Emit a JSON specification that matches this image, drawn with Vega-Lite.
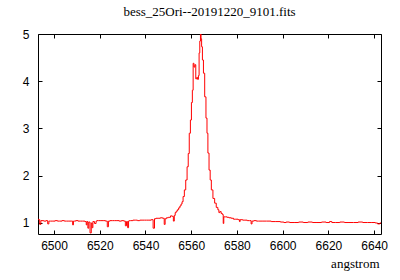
{
  "$schema": "https://vega.github.io/schema/vega-lite/v6.json",
  "autosize": "none",
  "width": 343,
  "height": 200,
  "padding": {"left": 38, "top": 34, "right": 19, "bottom": 46},
  "background": "white",
  "title": {"text": "bess_25Ori--20191220_9101.fits", "font": "Liberation Serif", "fontSize": 13, "fontWeight": "normal", "color": "black", "anchor": "middle", "offset": 9},
  "config": {"view": {"stroke": "black", "strokeWidth": 1}},
  "data": {"values": [
    {"x":6493.0,"y":1.08},{"x":6493.5,"y":1.07},{"x":6494.0,"y":0.97},{"x":6494.5,"y":1.05},{"x":6495,"y":1.05},{"x":6496,"y":1.04},{"x":6497,"y":1.05},{"x":6497.5,"y":0.98},{"x":6498,"y":1.04},{"x":6499,"y":1.04},
    {"x":6500,"y":1.04},{"x":6501,"y":1.05},{"x":6502,"y":1.04},{"x":6503,"y":1.04},{"x":6504,"y":1.05},{"x":6505,"y":1.04},{"x":6506,"y":1.04},{"x":6507,"y":1.04},{"x":6508,"y":1.04},{"x":6508.3,"y":0.96},
    {"x":6508.7,"y":1.04},{"x":6509,"y":1.04},{"x":6510,"y":1.05},{"x":6511,"y":1.04},{"x":6512,"y":1.04},{"x":6513,"y":1.04},{"x":6514,"y":1.03},{"x":6514.2,"y":0.96},{"x":6514.6,"y":1.03},{"x":6515.0,"y":0.89},
    {"x":6515.4,"y":1.02},{"x":6516.1,"y":0.79},{"x":6516.5,"y":1.0},{"x":6516.8,"y":0.9},{"x":6517.2,"y":1.03},{"x":6518.2,"y":0.99},{"x":6518.6,"y":1.04},{"x":6519,"y":1.05},{"x":6520,"y":1.05},{"x":6521,"y":1.05},
    {"x":6522,"y":1.05},{"x":6523,"y":1.04},{"x":6523.6,"y":0.92},{"x":6524,"y":1.04},{"x":6525,"y":1.05},{"x":6526,"y":1.05},{"x":6527,"y":1.05},{"x":6528,"y":1.05},{"x":6529,"y":1.04},{"x":6530,"y":1.05},
    {"x":6531,"y":1.04},{"x":6531.4,"y":0.94},{"x":6532,"y":1.03},{"x":6532.4,"y":0.9},{"x":6532.8,"y":1.04},{"x":6533,"y":1.05},{"x":6534,"y":1.05},{"x":6535,"y":1.06},{"x":6536,"y":1.06},{"x":6537,"y":1.05},
    {"x":6538,"y":1.06},{"x":6539,"y":1.06},{"x":6540,"y":1.06},{"x":6541,"y":1.06},{"x":6542,"y":1.06},{"x":6543,"y":1.07},{"x":6543.7,"y":0.89},{"x":6544.2,"y":1.09},{"x":6545,"y":1.1},{"x":6546,"y":1.1},
    {"x":6547,"y":1.11},{"x":6548,"y":1.1},{"x":6548.4,"y":0.97},{"x":6548.8,"y":1.09},{"x":6549.5,"y":1.11},{"x":6550.5,"y":1.12},{"x":6551.4,"y":1.15},{"x":6552,"y":1.14},{"x":6552.4,"y":1.04},{"x":6552.8,"y":1.16},
    {"x":6553.2,"y":1.22},{"x":6553.7,"y":1.25},{"x":6554.2,"y":1.28},{"x":6554.8,"y":1.32},{"x":6555.3,"y":1.36},{"x":6555.8,"y":1.4},{"x":6556.2,"y":1.45},{"x":6556.7,"y":1.56},{"x":6557.3,"y":1.7},{"x":6557.9,"y":1.91},
    {"x":6558.5,"y":2.19},{"x":6558.9,"y":2.47},{"x":6559.4,"y":2.9},{"x":6559.9,"y":3.18},{"x":6560.3,"y":3.55},{"x":6560.7,"y":3.81},{"x":6561.0,"y":4.38},{"x":6561.4,"y":4.3},{"x":6561.8,"y":4.35},{"x":6562.2,"y":4.05},
    {"x":6562.6,"y":4.08},{"x":6563.0,"y":4.04},{"x":6563.3,"y":4.12},{"x":6563.6,"y":4.6},{"x":6563.9,"y":4.85},{"x":6564.2,"y":5.0},{"x":6564.4,"y":4.9},{"x":6564.7,"y":4.73},{"x":6565.1,"y":4.45},{"x":6565.6,"y":4.17},
    {"x":6566.2,"y":3.67},{"x":6566.7,"y":3.22},{"x":6567.1,"y":2.9},{"x":6567.5,"y":2.48},{"x":6568.1,"y":2.12},{"x":6568.5,"y":1.91},{"x":6569.1,"y":1.7},{"x":6569.9,"y":1.52},{"x":6570.6,"y":1.42},{"x":6571.3,"y":1.33},
    {"x":6572.0,"y":1.28},{"x":6572.2,"y":1.22},{"x":6572.8,"y":1.24},{"x":6573.4,"y":1.2},{"x":6573.9,"y":1.18},{"x":6574.1,"y":0.99},{"x":6574.4,"y":1.13},{"x":6575.4,"y":1.13},{"x":6576,"y":1.12},{"x":6577,"y":1.11},
    {"x":6578,"y":1.1},{"x":6579,"y":1.08},{"x":6580,"y":1.08},{"x":6581,"y":1.07},{"x":6581.2,"y":1.03},{"x":6581.6,"y":1.07},{"x":6582,"y":1.07},{"x":6583,"y":1.06},{"x":6584,"y":1.06},{"x":6585,"y":1.05},
    {"x":6586,"y":1.05},{"x":6586.4,"y":0.98},{"x":6586.8,"y":1.04},{"x":6588,"y":1.05},{"x":6589,"y":1.04},{"x":6590,"y":1.04},{"x":6592,"y":1.04},{"x":6594,"y":1.04},{"x":6596,"y":1.03},{"x":6598,"y":1.03},
    {"x":6600,"y":1.02},{"x":6601,"y":1.01},{"x":6602,"y":1.02},{"x":6604,"y":1.01},{"x":6606,"y":1.01},{"x":6608,"y":1.02},{"x":6610,"y":1.01},{"x":6612,"y":1.02},{"x":6614,"y":1.01},{"x":6616,"y":1.01},
    {"x":6618,"y":1.02},{"x":6620,"y":1.01},{"x":6621,"y":1.03},{"x":6622,"y":1.01},{"x":6624,"y":1.01},{"x":6626,"y":1.02},{"x":6628,"y":1.01},{"x":6630,"y":1.01},{"x":6632,"y":1.01},{"x":6634,"y":1.02},
    {"x":6636,"y":1.01},{"x":6638,"y":1.01},{"x":6640,"y":1.01},{"x":6641,"y":1.0},{"x":6642,"y":0.98},{"x":6643,"y":1.0}
  ]},
  "layer": [
    {
      "mark": {"type": "line", "color": "#ff0000", "strokeWidth": 1, "interpolate": "step", "clip": true},
      "encoding": {
        "x": {"field": "x", "type": "quantitative", "scale": {"domain": [6493, 6643], "nice": false, "zero": false},
          "axis": {"orient": "bottom", "title": "angstrom", "format": "d", "values": [6500,6520,6540,6560,6580,6600,6620,6640], "grid": false, "domain": false, "tickSize": -4, "tickColor": "black", "labelFont": "Liberation Sans", "labelFontSize": 12, "labelColor": "black", "labelPadding": 10, "titleFont": "Liberation Serif", "titleFontSize": 13, "titleFontWeight": "normal", "titleColor": "black", "titleAnchor": "end", "titleAlign": "right", "titleX": 341, "titleY": 33, "titleBaseline": "alphabetic"}},
        "y": {"field": "y", "type": "quantitative", "scale": {"domain": [0.767, 5.0], "nice": false, "zero": false},
          "axis": {"orient": "left", "title": null, "values": [1,2,3,4,5], "grid": false, "domain": false, "tickSize": -4, "tickColor": "black", "labelFont": "Liberation Sans", "labelFontSize": 12, "labelColor": "black", "labelPadding": 13}}
      }
    },
    {
      "mark": {"type": "point", "opacity": 0},
      "encoding": {
        "x": {"field": "x", "type": "quantitative", "axis": {"orient": "top", "title": null, "values": [6500,6520,6540,6560,6580,6600,6620,6640], "labels": false, "grid": false, "domain": false, "tickSize": -4, "tickColor": "black"}},
        "y": {"field": "y", "type": "quantitative", "axis": {"orient": "right", "title": null, "values": [1,2,3,4,5], "labels": false, "grid": false, "domain": false, "tickSize": -4, "tickColor": "black"}}
      }
    }
  ],
  "resolve": {"axis": {"x": "independent", "y": "independent"}}
}
